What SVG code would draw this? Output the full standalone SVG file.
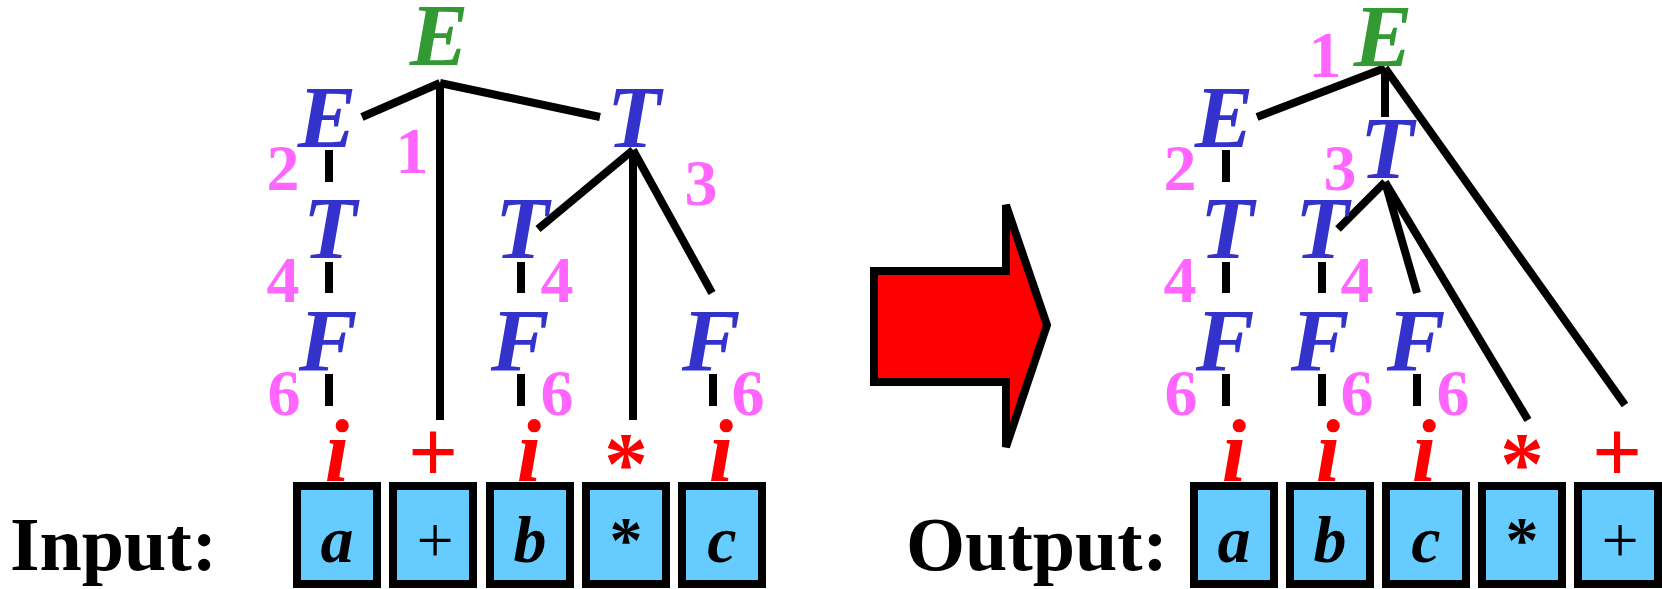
<svg xmlns="http://www.w3.org/2000/svg" width="1662" height="589" viewBox="0 0 1662 589">
<style>
.nt{font-family:"Liberation Serif","Times New Roman",serif;font-weight:bold;font-style:italic;font-size:88px;text-anchor:middle}
.g{fill:#339933}.b{fill:#3333CC}
.n{font-family:"Liberation Serif","Times New Roman",serif;font-weight:bold;font-size:66px;fill:#FF66FF;text-anchor:middle}
.t{font-family:"Liberation Serif","Times New Roman",serif;font-weight:bold;font-size:88px;fill:#FF0000;text-anchor:middle}
.ti{font-style:italic}
.bx{fill:#66CCFF;stroke:#000;stroke-width:8}
.bt{font-family:"Liberation Serif","Times New Roman",serif;font-weight:bold;font-size:66px;fill:#000;text-anchor:middle}
.lbl{font-family:"Liberation Serif","Times New Roman",serif;font-weight:bold;font-size:76px;fill:#000}
.ln{stroke:#000;stroke-width:8;fill:none}
</style>
<g id="connectors" class="ln">
<line x1="362" y1="117" x2="440" y2="83"/>
<line x1="440" y1="83" x2="600" y2="117"/>
<line x1="440" y1="83" x2="440" y2="420"/>
<line x1="633" y1="150" x2="538" y2="229"/>
<line x1="633" y1="150" x2="633" y2="420"/>
<line x1="633" y1="150" x2="712" y2="293"/>
<line x1="329" y1="150" x2="329" y2="182"/>
<line x1="329" y1="262" x2="329" y2="293"/>
<line x1="329" y1="374" x2="329" y2="406"/>
<line x1="521" y1="262" x2="521" y2="293"/>
<line x1="521" y1="374" x2="521" y2="406"/>
<line x1="713" y1="374" x2="713" y2="406"/>
<line x1="1257" y1="117" x2="1385" y2="68"/>
<line x1="1385" y1="68" x2="1385" y2="117"/>
<line x1="1385" y1="68" x2="1625" y2="405"/>
<line x1="1338" y1="229" x2="1385" y2="182"/>
<line x1="1385" y1="182" x2="1417" y2="293"/>
<line x1="1385" y1="182" x2="1528" y2="420"/>
<line x1="1226" y1="150" x2="1226" y2="182"/>
<line x1="1226" y1="262" x2="1226" y2="293"/>
<line x1="1226" y1="374" x2="1226" y2="406"/>
<line x1="1322" y1="262" x2="1322" y2="293"/>
<line x1="1322" y1="374" x2="1322" y2="406"/>
<line x1="1417" y1="374" x2="1417" y2="406"/>
</g>
<g id="left-tree">
<text class="nt g" x="439" y="65">E</text>
<text class="nt b" x="327" y="147">E</text>
<text class="nt b" x="330" y="258">T</text>
<text class="nt b" x="328" y="370">F</text>
<text class="nt b" x="634" y="147">T</text>
<text class="nt b" x="522" y="258">T</text>
<text class="nt b" x="520" y="370">F</text>
<text class="nt b" x="711" y="370">F</text>
<text class="n" x="283" y="190">2</text>
<text class="n" x="283" y="302">4</text>
<text class="n" x="284" y="415">6</text>
<text class="n" x="412" y="173">1</text>
<text class="n" x="701" y="205">3</text>
<text class="n" x="557" y="302">4</text>
<text class="n" x="557" y="415">6</text>
<text class="n" x="748" y="415">6</text>
</g>
<g id="input-terminals">
<text class="t ti" x="337" y="481">i</text>
<text class="t" x="433" y="482">+</text>
<text class="t ti" x="529" y="481">i</text>
<text class="t" x="626" y="493">*</text>
<text class="t ti" x="721" y="481">i</text>
</g>
<g id="input">
<text class="lbl" x="10" y="570">Input:</text>
<rect class="bx" x="297" y="486" width="80" height="98"/>
<rect class="bx" x="393" y="486" width="80" height="98"/>
<rect class="bx" x="490" y="486" width="80" height="98"/>
<rect class="bx" x="586" y="486" width="80" height="98"/>
<rect class="bx" x="682" y="486" width="80" height="98"/>
<text class="bt ti" x="337" y="562">a</text>
<text class="bt" x="435" y="562" style="font-weight:normal">+</text>
<text class="bt ti" x="530" y="562">b</text>
<text class="bt" x="626" y="562">*</text>
<text class="bt ti" x="722" y="562">c</text>
</g>
<g id="arrow">
<polygon points="874,271 1006,271 1006,205 1047,325 1006,447 1006,382 874,382" fill="#FF0000" stroke="#000" stroke-width="8"/>
</g>
<g id="right-tree">
<text class="nt g" x="1383" y="66">E</text>
<text class="n" x="1325" y="77">1</text>
<text class="nt b" x="1224" y="147">E</text>
<text class="nt b" x="1227" y="258">T</text>
<text class="nt b" x="1225" y="370">F</text>
<text class="n" x="1180" y="190">2</text>
<text class="n" x="1180" y="302">4</text>
<text class="n" x="1181" y="415">6</text>
<text class="nt b" x="1387" y="178">T</text>
<text class="n" x="1340" y="190">3</text>
<text class="nt b" x="1322" y="258">T</text>
<text class="n" x="1357" y="302">4</text>
<text class="nt b" x="1320" y="370">F</text>
<text class="n" x="1357" y="415">6</text>
<text class="nt b" x="1416" y="370">F</text>
<text class="n" x="1453" y="415">6</text>
</g>
<g id="output-terminals">
<text class="t ti" x="1234" y="481">i</text>
<text class="t ti" x="1328" y="481">i</text>
<text class="t ti" x="1424" y="481">i</text>
<text class="t" x="1522" y="493">*</text>
<text class="t" x="1617" y="482">+</text>
</g>
<g id="output">
<text class="lbl" x="906" y="570">Output:</text>
<rect class="bx" x="1194" y="486" width="80" height="98"/>
<rect class="bx" x="1290" y="486" width="80" height="98"/>
<rect class="bx" x="1386" y="486" width="80" height="98"/>
<rect class="bx" x="1482" y="486" width="80" height="98"/>
<rect class="bx" x="1578" y="486" width="80" height="98"/>
<text class="bt ti" x="1234" y="562">a</text>
<text class="bt ti" x="1330" y="562">b</text>
<text class="bt ti" x="1426" y="562">c</text>
<text class="bt" x="1522" y="562">*</text>
<text class="bt" x="1620" y="562" style="font-weight:normal">+</text>
</g>
</svg>
